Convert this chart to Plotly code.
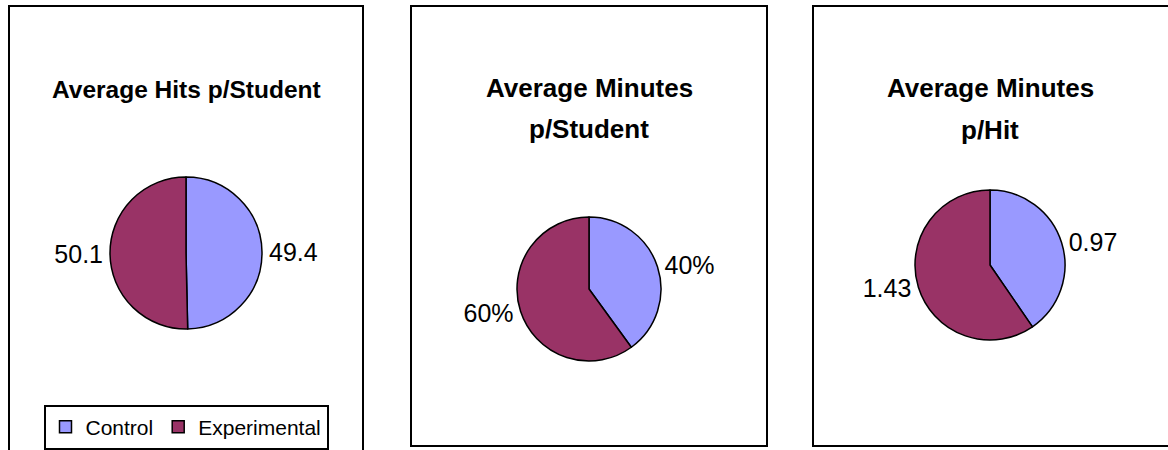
import plotly.graph_objects as go

groups = ["Control", "Experimental"]
hits_per_student = [49.4, 50.1]
minutes_per_student_pct = [40, 60]
minutes_per_hit = [0.97, 1.43]

titles = [["Average Hits p/Student"], ["Average Minutes", "p/Student"], ["Average Minutes", "p/Hit"]]
colors = ["#9999FF", "#993366"]

W, H = 1168, 450
FONT = "Liberation Sans, Arial, sans-serif"

def px_dom(x0, x1, y0, y1):
    return dict(x=[x0 / W, x1 / W], y=[1 - y1 / H, 1 - y0 / H])

fig = go.Figure()
common = dict(
    labels=groups, sort=False, direction="clockwise", rotation=0,
    marker=dict(colors=colors, line=dict(color="#000000", width=1.5)),
    textposition="outside",
    textfont=dict(family=FONT, size=25, color="#000000"),
    hoverinfo="label+value",
)
fig.add_trace(go.Pie(values=hits_per_student, texttemplate="%{value:.1f}",
                     domain=px_dom(110, 262, 177, 329), showlegend=True, **common))
fig.add_trace(go.Pie(values=minutes_per_student_pct, texttemplate="%{percent:.0%}",
                     domain=px_dom(517, 661, 217, 361), showlegend=False, **common))
fig.add_trace(go.Pie(values=minutes_per_hit, texttemplate="%{value:.2f}",
                     domain=px_dom(915, 1065, 190, 340), showlegend=False, **common))

shapes = []
for (x0, x1, y0, y1) in [(9, 363, 6, 470), (411, 767, 6, 446), (813, 1175, 6, 446)]:
    shapes.append(dict(type="rect", xref="paper", yref="paper",
                       x0=x0 / W, x1=x1 / W, y0=1 - y1 / H, y1=1 - y0 / H,
                       line=dict(color="#000000", width=2), fillcolor="rgba(0,0,0,0)"))

annotations = []
title_pos = [(186, [89], 24.5), (589, [88, 129], 26), (990, [88, 130], 26)]
for (cx, ys, fs), lines in zip(title_pos, titles):
    for cy, t in zip(ys, lines):
        annotations.append(dict(x=cx / W, y=1 - cy / H, xref="paper", yref="paper",
                                text="<b>" + t + "</b>", showarrow=False,
                                xanchor="center", yanchor="middle",
                                font=dict(family=FONT, size=fs, color="#000000")))

fig.update_layout(
    width=W, height=H,
    margin=dict(l=0, r=0, t=0, b=0),
    paper_bgcolor="#FFFFFF", plot_bgcolor="#FFFFFF",
    shapes=shapes, annotations=annotations,
    showlegend=True,
    legend=dict(orientation="h", x=186 / W, xanchor="center", y=1 - 427 / H, yanchor="middle",
                bordercolor="#000000", borderwidth=2,
                font=dict(family=FONT, size=21, color="#000000"),
                itemwidth=30, tracegroupgap=0),
)

fig.write_html("out.html")
